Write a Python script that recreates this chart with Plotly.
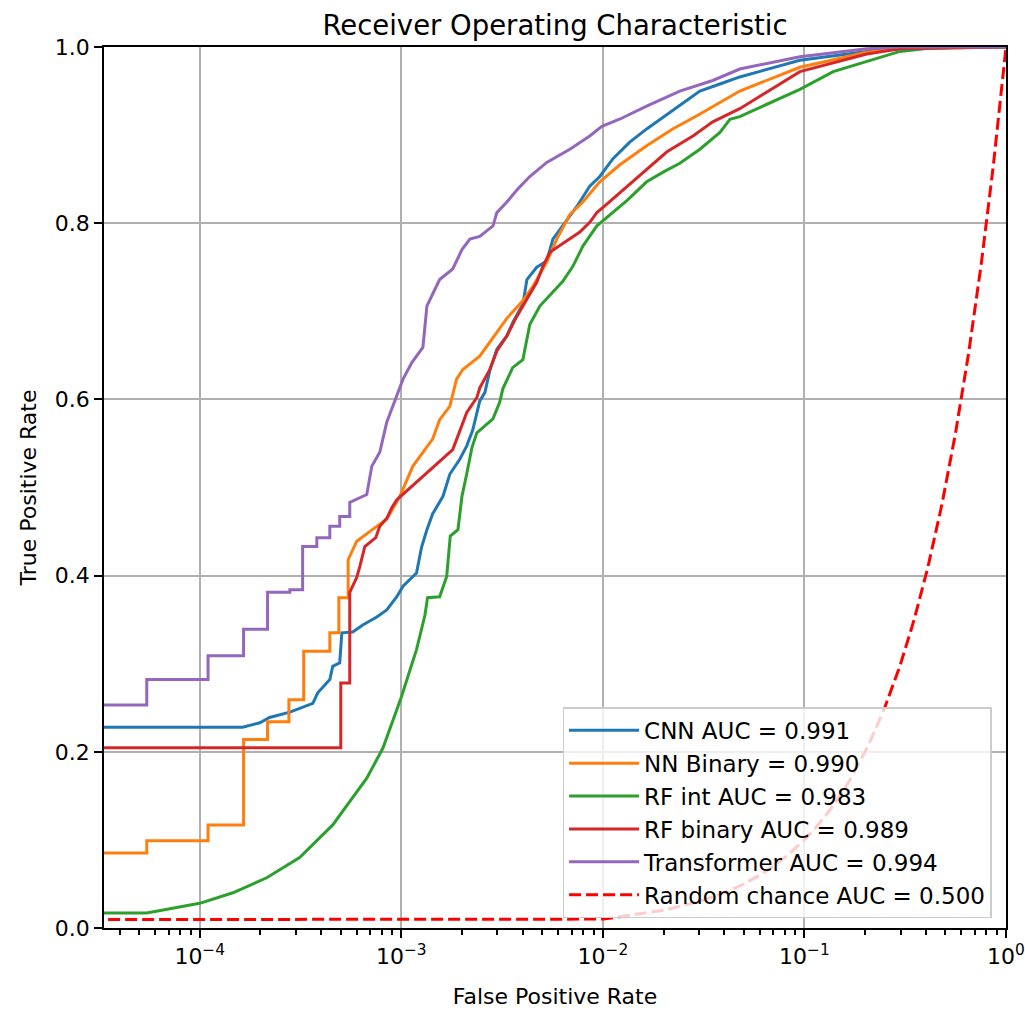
import numpy as np
import plotly.graph_objects as go

# ---------------- data ----------------
cnn_fpr = [0.0, 1.63e-4, 1.99e-4, 2.22e-4, 2.80e-4, 3.64e-4, 3.85e-4, 4.42e-4, 4.57e-4, 4.95e-4,
           5.07e-4, 5.74e-4, 6.44e-4, 7.56e-4, 8.47e-4, 9.50e-4, 1.02e-3, 1.19e-3, 1.26e-3, 1.34e-3,
           1.43e-3, 1.61e-3, 1.74e-3, 1.95e-3, 2.11e-3, 2.26e-3, 2.45e-3, 2.60e-3, 2.75e-3, 2.98e-3,
           3.34e-3, 3.57e-3, 4.01e-3, 4.20e-3, 4.70e-3, 5.27e-3, 5.65e-3, 6.63e-3, 7.43e-3, 8.61e-3,
           9.66e-3, 1.12e-2, 1.36e-2, 1.65e-2, 2.22e-2, 3.03e-2, 3.81e-2, 4.78e-2, 9.5e-2, 0.204,
           0.298, 1.0]
cnn_tpr = [0.228, 0.228, 0.233, 0.239, 0.245, 0.255, 0.267, 0.282, 0.297, 0.301,
           0.335, 0.336, 0.344, 0.353, 0.361, 0.376, 0.388, 0.403, 0.432, 0.452,
           0.470, 0.490, 0.515, 0.532, 0.547, 0.565, 0.598, 0.608, 0.633, 0.657,
           0.672, 0.687, 0.708, 0.736, 0.750, 0.757, 0.782, 0.803, 0.819, 0.842,
           0.853, 0.873, 0.892, 0.907, 0.928, 0.950, 0.958, 0.966, 0.985, 0.995,
           0.999, 1.0]

nn_fpr = [0.0, 5.46e-5, 5.46e-5, 1.10e-4, 1.10e-4, 1.65e-4, 1.65e-4, 2.17e-4, 2.17e-4, 2.77e-4,
          2.77e-4, 3.28e-4, 3.28e-4, 4.42e-4, 4.42e-4, 4.90e-4, 4.90e-4, 5.45e-4, 5.45e-4, 6.01e-4,
          7.47e-4, 8.47e-4, 9.84e-4, 1.14e-3, 1.28e-3, 1.43e-3, 1.55e-3, 1.74e-3, 1.88e-3, 2.02e-3,
          2.45e-3, 2.85e-3, 3.34e-3, 4.01e-3, 4.49e-3, 5.27e-3, 5.91e-3, 6.86e-3, 7.96e-3, 9.66e-3,
          1.21e-2, 1.65e-2, 2.22e-2, 2.93e-2, 3.81e-2, 4.78e-2, 9.5e-2, 0.204, 0.298, 1.0]
nn_tpr = [0.085, 0.085, 0.099, 0.099, 0.117, 0.117, 0.214, 0.214, 0.234, 0.234,
          0.259, 0.259, 0.314, 0.314, 0.335, 0.335, 0.375, 0.375, 0.418, 0.439,
          0.455, 0.464, 0.490, 0.524, 0.540, 0.555, 0.577, 0.592, 0.623, 0.634,
          0.649, 0.670, 0.692, 0.712, 0.728, 0.756, 0.782, 0.810, 0.824, 0.847,
          0.866, 0.888, 0.907, 0.922, 0.937, 0.950, 0.977, 0.994, 0.998, 1.0]

rfint_fpr = [0.0, 5.46e-5, 1.00e-4, 1.46e-4, 2.15e-4, 3.13e-4, 4.57e-4, 6.74e-4, 8.1e-4, 1.0e-3,
             1.19e-3, 1.31e-3, 1.35e-3, 1.55e-3, 1.68e-3, 1.75e-3, 1.91e-3, 2.0e-3, 2.11e-3, 2.24e-3,
             2.37e-3, 2.66e-3, 2.85e-3, 3.08e-3, 3.19e-3, 3.57e-3, 4.01e-3, 4.34e-3, 4.87e-3, 5.65e-3,
             6.33e-3, 7.10e-3, 7.96e-3, 9.34e-3, 1.12e-2, 1.32e-2, 1.65e-2, 1.99e-2, 2.41e-2, 3.03e-2,
             3.81e-2, 4.27e-2, 4.78e-2, 6.51e-2, 9.5e-2, 0.139, 0.204, 0.298, 0.434, 0.640, 1.0]
rfint_tpr = [0.017, 0.017, 0.028, 0.040, 0.057, 0.080, 0.117, 0.170, 0.204, 0.262,
             0.316, 0.355, 0.375, 0.376, 0.399, 0.445, 0.452, 0.490, 0.515, 0.545,
             0.562, 0.572, 0.578, 0.597, 0.612, 0.636, 0.645, 0.685, 0.706, 0.722,
             0.734, 0.751, 0.774, 0.797, 0.812, 0.826, 0.847, 0.858, 0.868, 0.884,
             0.903, 0.918, 0.921, 0.935, 0.952, 0.972, 0.984, 0.995, 0.999, 1.0, 1.0]

rfbin_fpr = [0.0, 5.01e-4, 5.01e-4, 5.55e-4, 5.55e-4, 6.01e-4, 6.22e-4, 6.59e-4, 7.47e-4, 7.82e-4,
             8.47e-4, 8.97e-4, 9.50e-4, 1.80e-3, 1.95e-3, 2.11e-3, 2.37e-3, 2.45e-3, 2.75e-3, 2.98e-3,
             3.34e-3, 3.66e-3, 4.20e-3, 4.70e-3, 5.04e-3, 5.46e-3, 6.63e-3, 7.69e-3, 8.61e-3, 9.34e-3,
             1.05e-2, 1.32e-2, 1.65e-2, 2.08e-2, 2.80e-2, 3.51e-2, 4.78e-2, 9.5e-2, 0.204, 0.298, 1.0]
rfbin_tpr = [0.2045, 0.2045, 0.278, 0.278, 0.381, 0.398, 0.410, 0.433, 0.443, 0.456,
             0.465, 0.477, 0.486, 0.543, 0.564, 0.585, 0.602, 0.613, 0.634, 0.655,
             0.672, 0.690, 0.714, 0.733, 0.751, 0.767, 0.780, 0.790, 0.801, 0.812,
             0.822, 0.842, 0.861, 0.881, 0.899, 0.915, 0.930, 0.972, 0.992, 0.998, 1.0]

trans_fpr = [0.0, 5.46e-5, 5.46e-5, 1.10e-4, 1.10e-4, 1.65e-4, 1.65e-4, 2.17e-4, 2.17e-4, 2.80e-4,
             2.80e-4, 3.24e-4, 3.24e-4, 3.81e-4, 3.81e-4, 4.42e-4, 4.42e-4, 4.95e-4, 4.95e-4, 5.55e-4,
             5.55e-4, 6.4e-4, 6.74e-4, 7.14e-4, 7.82e-4, 8.47e-4, 9.5e-4, 1.02e-3, 1.13e-3, 1.28e-3,
             1.34e-3, 1.43e-3, 1.55e-3, 1.80e-3, 2.00e-3, 2.19e-3, 2.45e-3, 2.85e-3, 2.98e-3, 3.34e-3,
             3.79e-3, 4.34e-3, 5.27e-3, 6.86e-3, 8.61e-3, 9.89e-3, 1.21e-2, 1.65e-2, 2.41e-2, 3.51e-2,
             4.78e-2, 9.5e-2, 0.204, 0.298, 1.0]
trans_tpr = [0.253, 0.253, 0.282, 0.282, 0.309, 0.309, 0.339, 0.339, 0.381, 0.381,
             0.384, 0.384, 0.433, 0.433, 0.443, 0.443, 0.456, 0.456, 0.467, 0.467,
             0.483, 0.490, 0.492, 0.524, 0.540, 0.574, 0.603, 0.623, 0.642, 0.659,
             0.706, 0.719, 0.736, 0.748, 0.770, 0.782, 0.785, 0.797, 0.812, 0.824,
             0.839, 0.853, 0.869, 0.884, 0.899, 0.910, 0.918, 0.933, 0.950, 0.962,
             0.975, 0.989, 0.998, 1.0, 1.0]

chance_fpr = np.linspace(0.0, 1.0, 100)
chance_tpr = np.linspace(0.0, 1.0, 100)

series_names = ["CNN AUC = 0.991", "NN Binary = 0.990", "RF int AUC = 0.983",
                "RF binary AUC = 0.989", "Transformer AUC = 0.994"]
series_fpr = [cnn_fpr, nn_fpr, rfint_fpr, rfbin_fpr, trans_fpr]
series_tpr = [cnn_tpr, nn_tpr, rfint_tpr, rfbin_tpr, trans_tpr]
chance_name = "Random chance AUC = 0.500"

x_tick_vals = [1e-4, 1e-3, 1e-2, 1e-1, 1e0]
x_tick_text = ["10<sup>\u22124</sup>", "10<sup>\u22123</sup>", "10<sup>\u22122</sup>",
               "10<sup>\u22121</sup>", "10<sup>0</sup>"]
y_tick_vals = [0.0, 0.2, 0.4, 0.6, 0.8, 1.0]
y_tick_text = ["0.0", "0.2", "0.4", "0.6", "0.8", "1.0"]

# ---------------- styling ----------------
colors = ["#1f77b4", "#ff7f0e", "#2ca02c", "#d62728", "#9467bd"]
FONT = "DejaVu Sans"
TINY = 1e-50  # zero FPR is clipped far to the left on a log axis (like matplotlib)


def for_log(v):
    a = np.asarray(v, dtype=float)
    return np.where(a > 0, a, TINY)


fig = go.Figure()
for name, fx, ty, c in zip(series_names, series_fpr, series_tpr, colors):
    fig.add_trace(go.Scatter(x=for_log(fx), y=ty, mode="lines", name=name,
                             line=dict(color=c, width=3)))
fig.add_trace(go.Scatter(x=for_log(chance_fpr), y=chance_tpr, mode="lines", name=chance_name,
                         line=dict(color="#ff0000", width=3, dash="12px,5px")))

fig.update_layout(
    width=1025, height=1011,
    margin=dict(l=104, r=19, t=47, b=83, autoexpand=False),
    paper_bgcolor="white", plot_bgcolor="white",
    font=dict(family=FONT, size=22, color="black"),
    title=dict(text="Receiver Operating Characteristic", x=0.5, xref="paper",
               y=1 - 25 / 1011, yref="container", yanchor="middle", xanchor="center",
               font=dict(family=FONT, size=27.5, color="black")),
    legend=dict(x=0.984, y=0.011, xanchor="right", yanchor="bottom",
                bgcolor="rgba(255,255,255,0.8)", bordercolor="#cccccc", borderwidth=1.5,
                font=dict(family=FONT, size=23, color="black"), itemwidth=70,
                tracegroupgap=0),
    showlegend=True,
)

fig.update_xaxes(
    type="log", range=[np.log10(3.35e-5), 0.0002], automargin=False,
    tickmode="array", tickvals=x_tick_vals, ticktext=x_tick_text,
    ticks="outside", ticklen=8, tickwidth=1.5, tickcolor="black",
    showgrid=True, gridcolor="#b0b0b0", gridwidth=1.5,
    showline=True, linecolor="black", linewidth=1.5, mirror=True,
    zeroline=False,
    minor=dict(tickmode="linear", tick0=0, dtick="D1", ticks="outside", ticklen=5,
               tickwidth=1.5, tickcolor="black", showgrid=False),
    title=dict(text="False Positive Rate", font=dict(family=FONT, size=22, color="black"),
               standoff=20),
    tickfont=dict(family=FONT, size=22, color="black"),
)
fig.update_yaxes(
    range=[0, 1], automargin=False,
    tickmode="array", tickvals=y_tick_vals, ticktext=y_tick_text,
    ticks="outside", ticklen=8, tickwidth=1.5, tickcolor="black",
    showgrid=True, gridcolor="#b0b0b0", gridwidth=1.5,
    showline=True, linecolor="black", linewidth=1.5, mirror=True,
    zeroline=False,
    title=dict(text="True Positive Rate", font=dict(family=FONT, size=22, color="black"),
               standoff=12),
    tickfont=dict(family=FONT, size=22, color="black"),
)

fig.write_html("out.html")
